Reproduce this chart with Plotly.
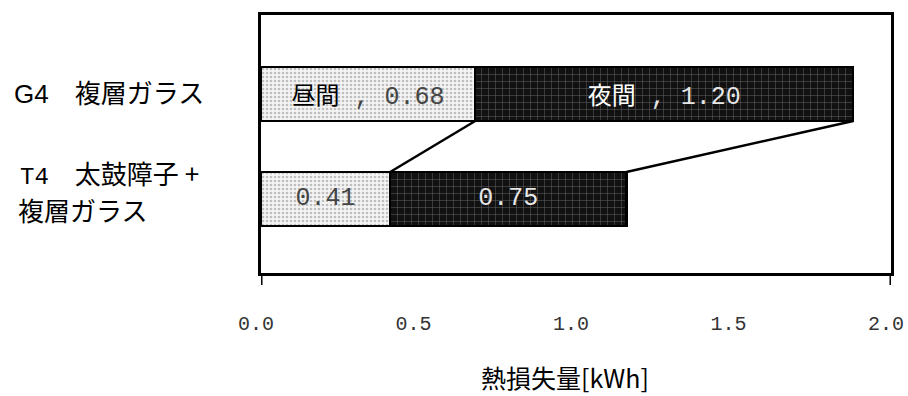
import plotly.graph_objects as go

# Heat loss per window type, split into daytime / night-time (kWh)
categories = ["G4　複層ガラス", "T4　太鼓障子 + 複層ガラス"]
daytime = [0.68, 0.41]
nighttime = [1.20, 0.75]
series_names = ["昼間", "夜間"]
tick_values = [0.0, 0.5, 1.0, 1.5, 2.0]
tick_labels = ["0.0", "0.5", "1.0", "1.5", "2.0"]
x_title = "熱損失量[kWh]"

CJK = "Noto Sans CJK JP"
MONO = "Liberation Mono"
BAR_W = 0.514
X_RANGE = [0, 2]

# first category drawn on top
pos = [len(categories) - 1 - i for i in range(len(categories))]
totals = [d + n for d, n in zip(daytime, nighttime)]


def name_span(name, color):
    return f"<span style=\"font-family:{CJK};font-size:24px;fill:{color}\">{name}</span> , "


fig = go.Figure()
fig.add_trace(go.Bar(
    y=pos, x=daytime, orientation="h", width=BAR_W, name=series_names[0],
    marker=dict(color="#ffffff",
                pattern=dict(shape=".", fgcolor="#8a8a8a", bgcolor="#f4f4f4", size=4, solidity=0.35),
                line=dict(color="black", width=2.5)),
    texttemplate=[name_span(series_names[0], "#000000") + "%{x:.2f}", "%{x:.2f}"],
    textposition="inside", insidetextanchor="middle", textangle=0,
    constraintext="none",
    textfont=dict(family=MONO, size=25, color="#444"),
    hoverinfo="skip",
))
fig.add_trace(go.Bar(
    y=pos, x=nighttime, orientation="h", width=BAR_W, name=series_names[1],
    marker=dict(color="#111111",
                pattern=dict(shape="+", fgcolor="#b0b0b0", bgcolor="#111111", size=7, solidity=0.14),
                line=dict(color="black", width=2.5)),
    texttemplate=[name_span(series_names[1], "#ffffff") + "%{x:.2f}", "%{x:.2f}"],
    textposition="inside", insidetextanchor="middle", textangle=0,
    constraintext="none",
    textfont=dict(family=MONO, size=25, color="#e6e6e6"),
    hoverinfo="skip",
))

# series lines joining segment edges of neighbouring bars
for edge in (daytime, totals):
    fig.add_trace(go.Scatter(
        x=[edge[0], edge[1]],
        y=[pos[0] - BAR_W / 2, pos[1] + BAR_W / 2],
        mode="lines", line=dict(color="black", width=2.5),
        showlegend=False, hoverinfo="skip",
    ))

PLOT_H = 396 - 15 - 123
PLOT_W = 908 - 261 - 17

fig.update_layout(
    width=908, height=396,
    margin=dict(l=261, r=17, t=15, b=123),
    barmode="stack", showlegend=False,
    paper_bgcolor="white", plot_bgcolor="white",
    xaxis=dict(range=X_RANGE, tickvals=tick_values, ticktext=tick_labels,
               ticks="", showgrid=False, zeroline=False, automargin=False,
               showline=True, linecolor="black", linewidth=3, mirror=True,
               ticklabelstandoff=30, ticklabelshift=-5, ticklabeloverflow="allow",
               tickfont=dict(family=MONO, size=20, color="#333")),
    yaxis=dict(range=[-0.705, 1.752], showticklabels=False, ticks="",
               showgrid=False, zeroline=False, automargin=False,
               showline=True, linecolor="black", linewidth=2.5, mirror=True),
)

# end tick marks of the value axis
for xv in X_RANGE:
    fig.add_shape(type="line", xref="x", yref="paper", x0=xv, x1=xv,
                  y0=0, y1=-12 / PLOT_H, line=dict(color="black", width=3))

# category labels
lab_x = (12 - 261) / PLOT_W
g4_code, g4_name = categories[0].split("　", 1)
fig.add_annotation(xref="paper", yref="y", x=lab_x, y=pos[0], yshift=2, xanchor="left", yanchor="middle",
                   text=f"<span style=\"font-family:Liberation Sans\">{g4_code}</span>　{g4_name}",
                   showarrow=False, font=dict(family=CJK, size=26, color="black"))
t4_code, t4_rest = categories[1].split("　", 1)
t4_line1, t4_line2 = t4_rest.split(" + ")
fig.add_annotation(xref="paper", yref="y", x=(18 - 261) / PLOT_W, y=pos[1], yshift=26,
                   xanchor="left", yanchor="middle",
                   text=f"<span style=\"font-family:{MONO};font-size:24px\">{t4_code}</span>　{t4_line1} +",
                   showarrow=False, font=dict(family=CJK, size=26, color="black"))
fig.add_annotation(xref="paper", yref="y", x=(16 - 261) / PLOT_W, y=pos[1], yshift=-11,
                   xanchor="left", yanchor="middle",
                   text=t4_line2,
                   showarrow=False, font=dict(family=CJK, size=26, color="black"))

# value axis title
fig.add_annotation(xref="paper", yref="paper", x=0.5 - 11 / PLOT_W, y=(273 - 377) / PLOT_H,
                   xanchor="center", yanchor="middle", text=x_title, showarrow=False,
                   font=dict(family=CJK, size=25, color="black"))

fig.write_html("out.html")
